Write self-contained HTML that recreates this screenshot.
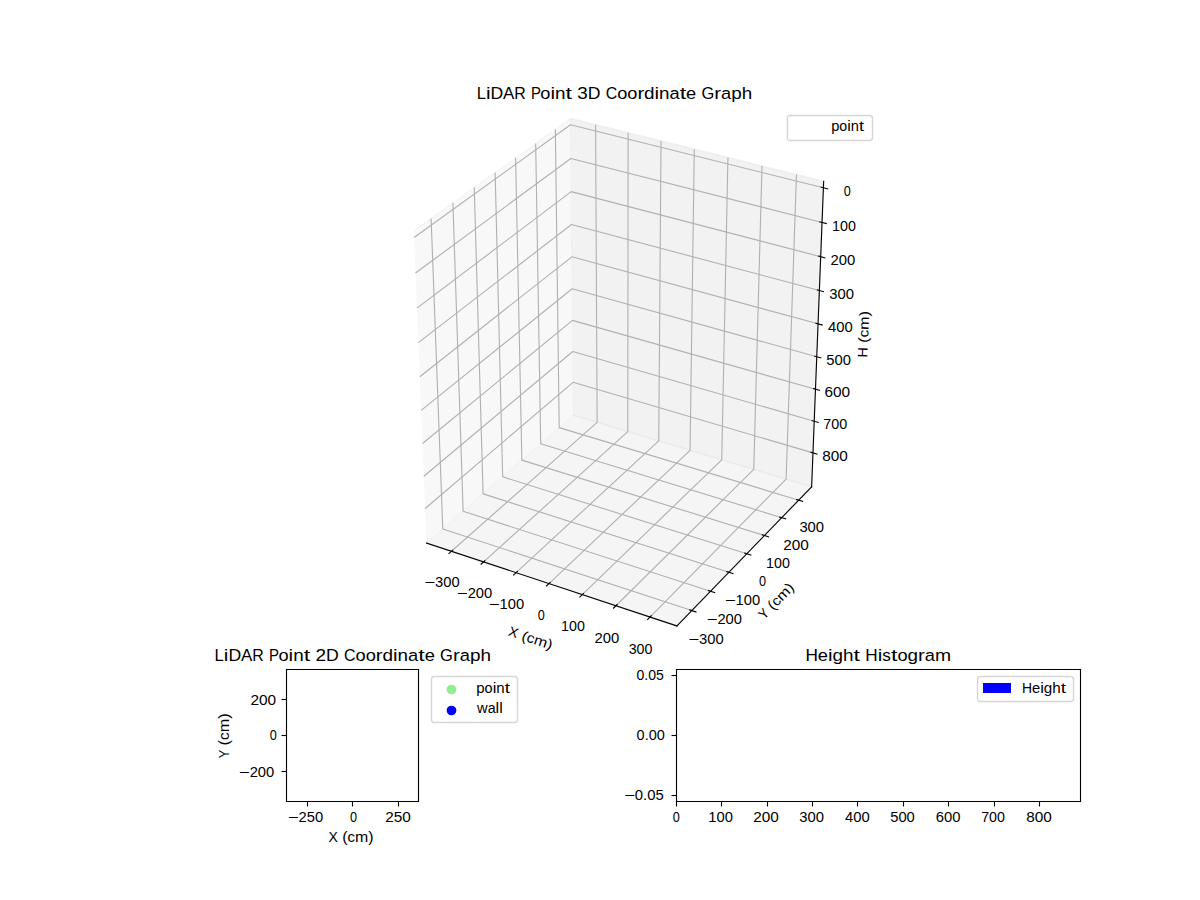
<!DOCTYPE html>
<html><head><meta charset="utf-8"><title>LiDAR Point Graphs</title><style>html,body{margin:0;padding:0;background:#fff;overflow:hidden;width:1200px;height:900px}</style></head><body>
<svg width="1200" height="900" viewBox="0 0 1200 900" style="display:block;font-family:'Liberation Sans',sans-serif">
<path d="M351 636L879 636L879 108L351 108Z" fill="#ffffff"/>
<path d="M413.78 230.85L570.45 118.51L573.41 415.27L426.59 543.03" fill="#f2f2f2" fill-opacity="0.5" stroke="#f2f2f2" stroke-opacity="0.5" stroke-width="1.389"/>
<path d="M570.45 118.51L823.66 181.24L811.65 486.76L573.41 415.27" fill="#e6e6e6" fill-opacity="0.5" stroke="#e6e6e6" stroke-opacity="0.5" stroke-width="1.389"/>
<path d="M426.59 543.03L676.91 625.95L811.65 486.76L573.41 415.27" fill="#ececec" fill-opacity="0.5" stroke="#ececec" stroke-opacity="0.5" stroke-width="1.389"/>
<path d="M451.44 551.27L597.12 422.39L595.6 124.74" fill="none" stroke="#b0b0b0" stroke-width="1.111" stroke-linejoin="round"/>
<path d="M483.57 561.91L627.77 431.59L628.12 132.8" fill="none" stroke="#b0b0b0" stroke-width="1.111" stroke-linejoin="round"/>
<path d="M516.08 572.68L658.75 440.88L661.01 140.95" fill="none" stroke="#b0b0b0" stroke-width="1.111" stroke-linejoin="round"/>
<path d="M548.97 583.57L690.07 450.28L694.28 149.19" fill="none" stroke="#b0b0b0" stroke-width="1.111" stroke-linejoin="round"/>
<path d="M582.25 594.59L721.74 459.78L727.94 157.53" fill="none" stroke="#b0b0b0" stroke-width="1.111" stroke-linejoin="round"/>
<path d="M615.93 605.75L753.75 469.39L762 165.97" fill="none" stroke="#b0b0b0" stroke-width="1.111" stroke-linejoin="round"/>
<path d="M650 617.04L786.11 479.1L796.46 174.5" fill="none" stroke="#b0b0b0" stroke-width="1.111" stroke-linejoin="round"/>
<path d="M431.12 218.42L442.78 528.95L691.8 610.56" fill="none" stroke="#b0b0b0" stroke-width="1.111" stroke-linejoin="round"/>
<path d="M452.9 202.8L463.13 511.24L710.52 591.23" fill="none" stroke="#b0b0b0" stroke-width="1.111" stroke-linejoin="round"/>
<path d="M474.24 187.5L483.09 493.87L728.86 572.29" fill="none" stroke="#b0b0b0" stroke-width="1.111" stroke-linejoin="round"/>
<path d="M495.14 172.51L502.66 476.84L746.83 553.72" fill="none" stroke="#b0b0b0" stroke-width="1.111" stroke-linejoin="round"/>
<path d="M515.61 157.83L521.86 460.13L764.44 535.53" fill="none" stroke="#b0b0b0" stroke-width="1.111" stroke-linejoin="round"/>
<path d="M535.68 143.44L540.71 443.73L781.71 517.69" fill="none" stroke="#b0b0b0" stroke-width="1.111" stroke-linejoin="round"/>
<path d="M555.35 129.34L559.2 427.64L798.65 500.2" fill="none" stroke="#b0b0b0" stroke-width="1.111" stroke-linejoin="round"/>
<path d="M823.4 187.73L570.51 124.8L414.06 237.49" fill="none" stroke="#b0b0b0" stroke-width="1.111" stroke-linejoin="round"/>
<path d="M822.04 222.45L570.85 158.45L415.51 273.03" fill="none" stroke="#b0b0b0" stroke-width="1.111" stroke-linejoin="round"/>
<path d="M820.69 256.7L571.18 191.66L416.95 308.07" fill="none" stroke="#b0b0b0" stroke-width="1.111" stroke-linejoin="round"/>
<path d="M819.37 290.49L571.51 224.45L418.37 342.63" fill="none" stroke="#b0b0b0" stroke-width="1.111" stroke-linejoin="round"/>
<path d="M818.06 323.83L571.83 256.82L419.77 376.71" fill="none" stroke="#b0b0b0" stroke-width="1.111" stroke-linejoin="round"/>
<path d="M816.76 356.74L572.15 288.79L421.15 410.33" fill="none" stroke="#b0b0b0" stroke-width="1.111" stroke-linejoin="round"/>
<path d="M815.49 389.21L572.46 320.35L422.51 443.49" fill="none" stroke="#b0b0b0" stroke-width="1.111" stroke-linejoin="round"/>
<path d="M814.23 421.26L572.77 351.52L423.85 476.2" fill="none" stroke="#b0b0b0" stroke-width="1.111" stroke-linejoin="round"/>
<path d="M812.98 452.89L573.08 382.3L425.18 508.48" fill="none" stroke="#b0b0b0" stroke-width="1.111" stroke-linejoin="round"/>
<path d="M426.59 543.03L676.91 625.95" fill="none" stroke="#000000" stroke-width="1.111" stroke-linejoin="round" stroke-linecap="square"/>
<path d="M452.69 550.16L448.93 553.49" fill="none" stroke="#000000" stroke-width="1.111" stroke-linejoin="round" stroke-linecap="square"/>
<text transform="translate(424.280 587.448)" font-size="13.889" fill="#000000"><tspan x="0" textLength="10.784" lengthAdjust="spacingAndGlyphs">−</tspan><tspan x="10.78" textLength="8.188" lengthAdjust="spacingAndGlyphs">3</tspan><tspan x="18.97" textLength="8.188" lengthAdjust="spacingAndGlyphs">0</tspan><tspan x="27.16" textLength="8.188" lengthAdjust="spacingAndGlyphs">0</tspan></text>
<path d="M484.81 560.79L481.09 564.16" fill="none" stroke="#000000" stroke-width="1.111" stroke-linejoin="round" stroke-linecap="square"/>
<text transform="translate(456.845 598.175)" font-size="13.889" fill="#000000"><tspan x="0" textLength="10.792" lengthAdjust="spacingAndGlyphs">−</tspan><tspan x="10.79" textLength="8.195" lengthAdjust="spacingAndGlyphs">2</tspan><tspan x="18.99" textLength="8.195" lengthAdjust="spacingAndGlyphs">0</tspan><tspan x="27.18" textLength="8.195" lengthAdjust="spacingAndGlyphs">0</tspan></text>
<path d="M517.31 571.54L513.62 574.95" fill="none" stroke="#000000" stroke-width="1.111" stroke-linejoin="round" stroke-linecap="square"/>
<text transform="translate(488.812 609.334)" font-size="13.889" fill="#000000"><tspan x="0" textLength="10.808" lengthAdjust="spacingAndGlyphs">−</tspan><tspan x="10.81" textLength="8.207" lengthAdjust="spacingAndGlyphs">1</tspan><tspan x="19.02" textLength="8.207" lengthAdjust="spacingAndGlyphs">0</tspan><tspan x="27.22" textLength="8.207" lengthAdjust="spacingAndGlyphs">0</tspan></text>
<path d="M550.19 582.42L546.54 585.87" fill="none" stroke="#000000" stroke-width="1.111" stroke-linejoin="round" stroke-linecap="square"/>
<text transform="translate(537.843 620.296)" font-size="13.889" fill="#000000"><tspan x="0" textLength="7.062" lengthAdjust="spacingAndGlyphs">0</tspan></text>
<path d="M583.45 593.43L579.84 596.92" fill="none" stroke="#000000" stroke-width="1.111" stroke-linejoin="round" stroke-linecap="square"/>
<text transform="translate(561.032 631.459)" font-size="13.889" fill="#000000"><tspan x="0" textLength="7.934" lengthAdjust="spacingAndGlyphs">1</tspan><tspan x="7.93" textLength="7.934" lengthAdjust="spacingAndGlyphs">0</tspan><tspan x="15.87" textLength="7.934" lengthAdjust="spacingAndGlyphs">0</tspan></text>
<path d="M617.11 604.57L613.55 608.1" fill="none" stroke="#000000" stroke-width="1.111" stroke-linejoin="round" stroke-linecap="square"/>
<text transform="translate(594.565 643.052)" font-size="13.889" fill="#000000"><tspan x="0" textLength="8.252" lengthAdjust="spacingAndGlyphs">2</tspan><tspan x="8.25" textLength="8.252" lengthAdjust="spacingAndGlyphs">0</tspan><tspan x="16.5" textLength="8.252" lengthAdjust="spacingAndGlyphs">0</tspan></text>
<path d="M651.18 615.85L647.65 619.42" fill="none" stroke="#000000" stroke-width="1.111" stroke-linejoin="round" stroke-linecap="square"/>
<text transform="translate(628.665 653.968)" font-size="13.889" fill="#000000"><tspan x="0" textLength="7.945" lengthAdjust="spacingAndGlyphs">3</tspan><tspan x="7.94" textLength="7.945" lengthAdjust="spacingAndGlyphs">0</tspan><tspan x="15.89" textLength="7.945" lengthAdjust="spacingAndGlyphs">0</tspan></text>
<text transform="translate(507.505 635.331) rotate(-341.6733)" font-size="13.889" fill="#000000"><tspan x="0" textLength="9.448" lengthAdjust="spacingAndGlyphs">X</tspan><tspan x="13.83" textLength="5.381" lengthAdjust="spacingAndGlyphs">(</tspan><tspan x="19.21" textLength="7.583" lengthAdjust="spacingAndGlyphs">c</tspan><tspan x="26.8" textLength="13.435" lengthAdjust="spacingAndGlyphs">m</tspan><tspan x="40.23" textLength="5.381" lengthAdjust="spacingAndGlyphs">)</tspan></text>
<path d="M811.65 486.76L676.91 625.95" fill="none" stroke="#000000" stroke-width="1.111" stroke-linejoin="round" stroke-linecap="square"/>
<path d="M689.72 609.88L695.97 611.93" fill="none" stroke="#000000" stroke-width="1.111" stroke-linejoin="round" stroke-linecap="square"/>
<text transform="translate(688.240 643.944)" font-size="13.889" fill="#000000"><tspan x="0" textLength="10.800" lengthAdjust="spacingAndGlyphs">−</tspan><tspan x="10.8" textLength="8.200" lengthAdjust="spacingAndGlyphs">3</tspan><tspan x="19" textLength="8.200" lengthAdjust="spacingAndGlyphs">0</tspan><tspan x="27.2" textLength="8.200" lengthAdjust="spacingAndGlyphs">0</tspan></text>
<path d="M708.45 590.56L714.66 592.57" fill="none" stroke="#000000" stroke-width="1.111" stroke-linejoin="round" stroke-linecap="square"/>
<text transform="translate(706.601 623.817)" font-size="13.889" fill="#000000"><tspan x="0" textLength="10.792" lengthAdjust="spacingAndGlyphs">−</tspan><tspan x="10.79" textLength="8.195" lengthAdjust="spacingAndGlyphs">2</tspan><tspan x="18.99" textLength="8.195" lengthAdjust="spacingAndGlyphs">0</tspan><tspan x="27.18" textLength="8.195" lengthAdjust="spacingAndGlyphs">0</tspan></text>
<path d="M726.81 571.63L732.97 573.6" fill="none" stroke="#000000" stroke-width="1.111" stroke-linejoin="round" stroke-linecap="square"/>
<text transform="translate(724.826 605.421)" font-size="13.889" fill="#000000"><tspan x="0" textLength="10.792" lengthAdjust="spacingAndGlyphs">−</tspan><tspan x="10.79" textLength="8.195" lengthAdjust="spacingAndGlyphs">1</tspan><tspan x="18.99" textLength="8.195" lengthAdjust="spacingAndGlyphs">0</tspan><tspan x="27.18" textLength="8.195" lengthAdjust="spacingAndGlyphs">0</tspan></text>
<path d="M744.79 553.08L750.91 555.01" fill="none" stroke="#000000" stroke-width="1.111" stroke-linejoin="round" stroke-linecap="square"/>
<text transform="translate(758.880 586.063)" font-size="13.889" fill="#000000"><tspan x="0" textLength="7.062" lengthAdjust="spacingAndGlyphs">0</tspan></text>
<path d="M762.42 534.9L768.5 536.79" fill="none" stroke="#000000" stroke-width="1.111" stroke-linejoin="round" stroke-linecap="square"/>
<text transform="translate(766.055 568.148)" font-size="13.889" fill="#000000"><tspan x="0" textLength="7.934" lengthAdjust="spacingAndGlyphs">1</tspan><tspan x="7.93" textLength="7.934" lengthAdjust="spacingAndGlyphs">0</tspan><tspan x="15.87" textLength="7.934" lengthAdjust="spacingAndGlyphs">0</tspan></text>
<path d="M779.7 517.07L785.74 518.92" fill="none" stroke="#000000" stroke-width="1.111" stroke-linejoin="round" stroke-linecap="square"/>
<text transform="translate(783.269 550.413)" font-size="13.889" fill="#000000"><tspan x="0" textLength="8.536" lengthAdjust="spacingAndGlyphs">2</tspan><tspan x="8.54" textLength="8.536" lengthAdjust="spacingAndGlyphs">0</tspan><tspan x="17.07" textLength="8.536" lengthAdjust="spacingAndGlyphs">0</tspan></text>
<path d="M796.65 499.59L802.64 501.41" fill="none" stroke="#000000" stroke-width="1.111" stroke-linejoin="round" stroke-linecap="square"/>
<text transform="translate(799.376 532.213)" font-size="13.889" fill="#000000"><tspan x="0" textLength="8.245" lengthAdjust="spacingAndGlyphs">3</tspan><tspan x="8.24" textLength="8.245" lengthAdjust="spacingAndGlyphs">0</tspan><tspan x="16.49" textLength="8.245" lengthAdjust="spacingAndGlyphs">0</tspan></text>
<text transform="translate(764.257 619.960) rotate(-45.9294)" font-size="13.889" fill="#000000"><tspan x="0" textLength="8.334" lengthAdjust="spacingAndGlyphs">Y</tspan><tspan x="12.67" textLength="5.323" lengthAdjust="spacingAndGlyphs">(</tspan><tspan x="17.99" textLength="7.501" lengthAdjust="spacingAndGlyphs">c</tspan><tspan x="25.49" textLength="13.290" lengthAdjust="spacingAndGlyphs">m</tspan><tspan x="38.78" textLength="5.323" lengthAdjust="spacingAndGlyphs">)</tspan></text>
<path d="M811.65 486.76L823.66 181.24" fill="none" stroke="#000000" stroke-width="1.111" stroke-linejoin="round" stroke-linecap="square"/>
<path d="M821.29 187.21L827.64 188.79" fill="none" stroke="#000000" stroke-width="1.111" stroke-linejoin="round" stroke-linecap="square"/>
<text transform="translate(843.793 196.062)" font-size="13.889" fill="#000000"><tspan x="0" textLength="7.062" lengthAdjust="spacingAndGlyphs">0</tspan></text>
<path d="M819.94 221.92L826.24 223.52" fill="none" stroke="#000000" stroke-width="1.111" stroke-linejoin="round" stroke-linecap="square"/>
<text transform="translate(832.023 230.705)" font-size="13.889" fill="#000000"><tspan x="0" textLength="7.934" lengthAdjust="spacingAndGlyphs">1</tspan><tspan x="7.93" textLength="7.934" lengthAdjust="spacingAndGlyphs">0</tspan><tspan x="15.87" textLength="7.934" lengthAdjust="spacingAndGlyphs">0</tspan></text>
<path d="M818.61 256.16L824.87 257.79" fill="none" stroke="#000000" stroke-width="1.111" stroke-linejoin="round" stroke-linecap="square"/>
<text transform="translate(830.551 265.212)" font-size="13.889" fill="#000000"><tspan x="0" textLength="8.252" lengthAdjust="spacingAndGlyphs">2</tspan><tspan x="8.25" textLength="8.252" lengthAdjust="spacingAndGlyphs">0</tspan><tspan x="16.5" textLength="8.252" lengthAdjust="spacingAndGlyphs">0</tspan></text>
<path d="M817.3 289.94L823.51 291.6" fill="none" stroke="#000000" stroke-width="1.111" stroke-linejoin="round" stroke-linecap="square"/>
<text transform="translate(829.348 298.945)" font-size="13.889" fill="#000000"><tspan x="0" textLength="8.245" lengthAdjust="spacingAndGlyphs">3</tspan><tspan x="8.24" textLength="8.245" lengthAdjust="spacingAndGlyphs">0</tspan><tspan x="16.49" textLength="8.245" lengthAdjust="spacingAndGlyphs">0</tspan></text>
<path d="M816 323.28L822.17 324.95" fill="none" stroke="#000000" stroke-width="1.111" stroke-linejoin="round" stroke-linecap="square"/>
<text transform="translate(827.956 331.528)" font-size="13.889" fill="#000000"><tspan x="0" textLength="8.239" lengthAdjust="spacingAndGlyphs">4</tspan><tspan x="8.24" textLength="8.239" lengthAdjust="spacingAndGlyphs">0</tspan><tspan x="16.48" textLength="8.239" lengthAdjust="spacingAndGlyphs">0</tspan></text>
<path d="M814.72 356.17L820.85 357.87" fill="none" stroke="#000000" stroke-width="1.111" stroke-linejoin="round" stroke-linecap="square"/>
<text transform="translate(826.212 364.527)" font-size="13.889" fill="#000000"><tspan x="0" textLength="8.217" lengthAdjust="spacingAndGlyphs">5</tspan><tspan x="8.22" textLength="8.217" lengthAdjust="spacingAndGlyphs">0</tspan><tspan x="16.43" textLength="8.217" lengthAdjust="spacingAndGlyphs">0</tspan></text>
<path d="M813.46 388.63L819.54 390.36" fill="none" stroke="#000000" stroke-width="1.111" stroke-linejoin="round" stroke-linecap="square"/>
<text transform="translate(824.376 397.179)" font-size="13.889" fill="#000000"><tspan x="0" textLength="8.548" lengthAdjust="spacingAndGlyphs">6</tspan><tspan x="8.55" textLength="8.548" lengthAdjust="spacingAndGlyphs">0</tspan><tspan x="17.1" textLength="8.548" lengthAdjust="spacingAndGlyphs">0</tspan></text>
<path d="M812.21 420.67L818.26 422.42" fill="none" stroke="#000000" stroke-width="1.111" stroke-linejoin="round" stroke-linecap="square"/>
<text transform="translate(823.247 428.766)" font-size="13.889" fill="#000000"><tspan x="0" textLength="7.959" lengthAdjust="spacingAndGlyphs">7</tspan><tspan x="7.96" textLength="7.959" lengthAdjust="spacingAndGlyphs">0</tspan><tspan x="15.92" textLength="7.959" lengthAdjust="spacingAndGlyphs">0</tspan></text>
<path d="M810.98 452.3L816.99 454.07" fill="none" stroke="#000000" stroke-width="1.111" stroke-linejoin="round" stroke-linecap="square"/>
<text transform="translate(822.268 460.741)" font-size="13.889" fill="#000000"><tspan x="0" textLength="8.536" lengthAdjust="spacingAndGlyphs">8</tspan><tspan x="8.54" textLength="8.536" lengthAdjust="spacingAndGlyphs">0</tspan><tspan x="17.07" textLength="8.536" lengthAdjust="spacingAndGlyphs">0</tspan></text>
<text transform="translate(867.346 357.649) rotate(-87.7491)" font-size="13.889" fill="#000000"><tspan x="0" textLength="10.353" lengthAdjust="spacingAndGlyphs">H</tspan><tspan x="14.73" textLength="5.372" lengthAdjust="spacingAndGlyphs">(</tspan><tspan x="20.1" textLength="7.570" lengthAdjust="spacingAndGlyphs">c</tspan><tspan x="27.67" textLength="13.412" lengthAdjust="spacingAndGlyphs">m</tspan><tspan x="41.08" textLength="5.372" lengthAdjust="spacingAndGlyphs">)</tspan></text>
<text transform="translate(476.705 99.441)" font-size="16.667" fill="#000000"><tspan x="0" textLength="9.202" lengthAdjust="spacingAndGlyphs">L</tspan><tspan x="9.2" textLength="4.589" lengthAdjust="spacingAndGlyphs">i</tspan><tspan x="13.79" textLength="12.718" lengthAdjust="spacingAndGlyphs">D</tspan><tspan x="26.26" textLength="11.299" lengthAdjust="spacingAndGlyphs">A</tspan><tspan x="37.56" textLength="11.476" lengthAdjust="spacingAndGlyphs">R</tspan><tspan x="54.29" textLength="9.960" lengthAdjust="spacingAndGlyphs">P</tspan><tspan x="63.63" textLength="10.105" lengthAdjust="spacingAndGlyphs">o</tspan><tspan x="73.73" textLength="4.589" lengthAdjust="spacingAndGlyphs">i</tspan><tspan x="78.32" textLength="10.468" lengthAdjust="spacingAndGlyphs">n</tspan><tspan x="88.79" textLength="6.476" lengthAdjust="spacingAndGlyphs">t</tspan><tspan x="100.51" textLength="10.509" lengthAdjust="spacingAndGlyphs">3</tspan><tspan x="111.02" textLength="12.718" lengthAdjust="spacingAndGlyphs">D</tspan><tspan x="128.99" textLength="11.533" lengthAdjust="spacingAndGlyphs">C</tspan><tspan x="140.52" textLength="10.105" lengthAdjust="spacingAndGlyphs">o</tspan><tspan x="150.63" textLength="10.105" lengthAdjust="spacingAndGlyphs">o</tspan><tspan x="160.74" textLength="6.791" lengthAdjust="spacingAndGlyphs">r</tspan><tspan x="167.28" textLength="10.484" lengthAdjust="spacingAndGlyphs">d</tspan><tspan x="177.76" textLength="4.589" lengthAdjust="spacingAndGlyphs">i</tspan><tspan x="182.35" textLength="10.468" lengthAdjust="spacingAndGlyphs">n</tspan><tspan x="192.82" textLength="10.121" lengthAdjust="spacingAndGlyphs">a</tspan><tspan x="202.94" textLength="6.476" lengthAdjust="spacingAndGlyphs">t</tspan><tspan x="209.42" textLength="10.162" lengthAdjust="spacingAndGlyphs">e</tspan><tspan x="224.83" textLength="12.799" lengthAdjust="spacingAndGlyphs">G</tspan><tspan x="237.63" textLength="6.791" lengthAdjust="spacingAndGlyphs">r</tspan><tspan x="244.42" textLength="10.121" lengthAdjust="spacingAndGlyphs">a</tspan><tspan x="254.54" textLength="10.484" lengthAdjust="spacingAndGlyphs">p</tspan><tspan x="265.02" textLength="10.468" lengthAdjust="spacingAndGlyphs">h</tspan></text>
<path d="M789.5 140.5L869.5 140.5Q872.5 140.5 872.5 137.5L872.5 118.5Q872.5 115.5 869.5 115.5L789.5 115.5Q787.5 115.5 787.5 118.5L787.5 137.5Q787.5 140.5 789.5 140.5Z" fill="#ffffff" fill-opacity="0.8" stroke="#cccccc" stroke-opacity="0.8" stroke-width="1.389"/>
<text transform="translate(831.199 131.130)" font-size="13.889" fill="#000000"><tspan x="0" textLength="8.162" lengthAdjust="spacingAndGlyphs">p</tspan><tspan x="8.16" textLength="7.867" lengthAdjust="spacingAndGlyphs">o</tspan><tspan x="16.03" textLength="3.572" lengthAdjust="spacingAndGlyphs">i</tspan><tspan x="19.6" textLength="8.149" lengthAdjust="spacingAndGlyphs">n</tspan><tspan x="27.75" textLength="5.041" lengthAdjust="spacingAndGlyphs">t</tspan></text>
<path d="M286 801L418 801L418 669L286 669Z" fill="#ffffff"/>
<path d="M307.5 801.5L307.5 806.5" fill="#000000" stroke="#000000" stroke-width="1.111" stroke-linejoin="round"/>
<text transform="translate(287.789 822.099)" font-size="13.889" fill="#000000"><tspan x="0" textLength="10.808" lengthAdjust="spacingAndGlyphs">−</tspan><tspan x="10.81" textLength="8.207" lengthAdjust="spacingAndGlyphs">2</tspan><tspan x="19.02" textLength="8.207" lengthAdjust="spacingAndGlyphs">5</tspan><tspan x="27.22" textLength="8.207" lengthAdjust="spacingAndGlyphs">0</tspan></text>
<path d="M352.5 801.5L352.5 806.5" fill="#000000" stroke="#000000" stroke-width="1.111" stroke-linejoin="round"/>
<text transform="translate(349.887 821.846)" font-size="13.889" fill="#000000"><tspan x="0" textLength="7.062" lengthAdjust="spacingAndGlyphs">0</tspan></text>
<path d="M398.5 801.5L398.5 806.5" fill="#000000" stroke="#000000" stroke-width="1.111" stroke-linejoin="round"/>
<text transform="translate(385.254 821.962)" font-size="13.889" fill="#000000"><tspan x="0" textLength="8.536" lengthAdjust="spacingAndGlyphs">2</tspan><tspan x="8.54" textLength="8.536" lengthAdjust="spacingAndGlyphs">5</tspan><tspan x="17.07" textLength="8.536" lengthAdjust="spacingAndGlyphs">0</tspan></text>
<text transform="translate(328.595 841.669)" font-size="13.889" fill="#000000"><tspan x="0" textLength="9.324" lengthAdjust="spacingAndGlyphs">X</tspan><tspan x="13.65" textLength="5.310" lengthAdjust="spacingAndGlyphs">(</tspan><tspan x="18.96" textLength="7.483" lengthAdjust="spacingAndGlyphs">c</tspan><tspan x="26.44" textLength="13.258" lengthAdjust="spacingAndGlyphs">m</tspan><tspan x="39.7" textLength="5.310" lengthAdjust="spacingAndGlyphs">)</tspan></text>
<path d="M286.5 771.5L281.5 771.5" fill="#000000" stroke="#000000" stroke-width="1.111" stroke-linejoin="round"/>
<text transform="translate(238.858 777.349)" font-size="13.889" fill="#000000"><tspan x="0" textLength="10.808" lengthAdjust="spacingAndGlyphs">−</tspan><tspan x="10.81" textLength="8.207" lengthAdjust="spacingAndGlyphs">2</tspan><tspan x="19.02" textLength="8.207" lengthAdjust="spacingAndGlyphs">0</tspan><tspan x="27.22" textLength="8.207" lengthAdjust="spacingAndGlyphs">0</tspan></text>
<path d="M286.5 735.5L281.5 735.5" fill="#000000" stroke="#000000" stroke-width="1.111" stroke-linejoin="round"/>
<text transform="translate(269.789 739.624)" font-size="13.889" fill="#000000"><tspan x="0" textLength="7.062" lengthAdjust="spacingAndGlyphs">0</tspan></text>
<path d="M286.5 699.5L281.5 699.5" fill="#000000" stroke="#000000" stroke-width="1.111" stroke-linejoin="round"/>
<text transform="translate(250.449 704.509)" font-size="13.889" fill="#000000"><tspan x="0" textLength="8.562" lengthAdjust="spacingAndGlyphs">2</tspan><tspan x="8.56" textLength="8.562" lengthAdjust="spacingAndGlyphs">0</tspan><tspan x="17.12" textLength="8.562" lengthAdjust="spacingAndGlyphs">0</tspan></text>
<text transform="translate(228.615 758.269) rotate(-90.0000)" font-size="13.889" fill="#000000"><tspan x="0" textLength="8.484" lengthAdjust="spacingAndGlyphs">Y</tspan><tspan x="12.9" textLength="5.419" lengthAdjust="spacingAndGlyphs">(</tspan><tspan x="18.32" textLength="7.637" lengthAdjust="spacingAndGlyphs">c</tspan><tspan x="25.96" textLength="13.530" lengthAdjust="spacingAndGlyphs">m</tspan><tspan x="39.49" textLength="5.419" lengthAdjust="spacingAndGlyphs">)</tspan></text>
<path d="M286.5 801.5L286.5 669.5" fill="none" stroke="#000000" stroke-width="1.111" stroke-linecap="square"/>
<path d="M418.5 801.5L418.5 669.5" fill="none" stroke="#000000" stroke-width="1.111" stroke-linecap="square"/>
<path d="M286.5 801.5L418.5 801.5" fill="none" stroke="#000000" stroke-width="1.111" stroke-linecap="square"/>
<path d="M286.5 669.5L418.5 669.5" fill="none" stroke="#000000" stroke-width="1.111" stroke-linecap="square"/>
<text transform="translate(214.572 660.506)" font-size="16.667" fill="#000000"><tspan x="0" textLength="9.232" lengthAdjust="spacingAndGlyphs">L</tspan><tspan x="9.23" textLength="4.604" lengthAdjust="spacingAndGlyphs">i</tspan><tspan x="13.84" textLength="12.760" lengthAdjust="spacingAndGlyphs">D</tspan><tspan x="26.35" textLength="11.336" lengthAdjust="spacingAndGlyphs">A</tspan><tspan x="37.68" textLength="11.514" lengthAdjust="spacingAndGlyphs">R</tspan><tspan x="54.46" textLength="9.993" lengthAdjust="spacingAndGlyphs">P</tspan><tspan x="63.83" textLength="10.138" lengthAdjust="spacingAndGlyphs">o</tspan><tspan x="73.97" textLength="4.604" lengthAdjust="spacingAndGlyphs">i</tspan><tspan x="78.58" textLength="10.502" lengthAdjust="spacingAndGlyphs">n</tspan><tspan x="89.08" textLength="6.497" lengthAdjust="spacingAndGlyphs">t</tspan><tspan x="100.84" textLength="10.543" lengthAdjust="spacingAndGlyphs">2</tspan><tspan x="111.39" textLength="12.760" lengthAdjust="spacingAndGlyphs">D</tspan><tspan x="129.41" textLength="11.570" lengthAdjust="spacingAndGlyphs">C</tspan><tspan x="140.98" textLength="10.138" lengthAdjust="spacingAndGlyphs">o</tspan><tspan x="151.12" textLength="10.138" lengthAdjust="spacingAndGlyphs">o</tspan><tspan x="161.26" textLength="6.813" lengthAdjust="spacingAndGlyphs">r</tspan><tspan x="167.82" textLength="10.519" lengthAdjust="spacingAndGlyphs">d</tspan><tspan x="178.34" textLength="4.604" lengthAdjust="spacingAndGlyphs">i</tspan><tspan x="182.95" textLength="10.502" lengthAdjust="spacingAndGlyphs">n</tspan><tspan x="193.45" textLength="10.154" lengthAdjust="spacingAndGlyphs">a</tspan><tspan x="203.6" textLength="6.497" lengthAdjust="spacingAndGlyphs">t</tspan><tspan x="210.1" textLength="10.195" lengthAdjust="spacingAndGlyphs">e</tspan><tspan x="225.56" textLength="12.841" lengthAdjust="spacingAndGlyphs">G</tspan><tspan x="238.4" textLength="6.813" lengthAdjust="spacingAndGlyphs">r</tspan><tspan x="245.22" textLength="10.154" lengthAdjust="spacingAndGlyphs">a</tspan><tspan x="255.37" textLength="10.519" lengthAdjust="spacingAndGlyphs">p</tspan><tspan x="265.89" textLength="10.502" lengthAdjust="spacingAndGlyphs">h</tspan></text>
<path d="M433.5 722.5L514.5 722.5Q517.5 722.5 517.5 719.5L517.5 679.5Q517.5 676.5 514.5 676.5L433.5 676.5Q431.5 676.5 431.5 679.5L431.5 719.5Q431.5 722.5 433.5 722.5Z" fill="#ffffff" fill-opacity="0.8" stroke="#cccccc" stroke-opacity="0.8" stroke-width="1.389"/>
<path d="M451.5 693.67C452.61 693.67 453.66 693.23 454.45 692.45C455.23 691.66 455.67 690.61 455.67 689.5C455.67 688.39 455.23 687.34 454.45 686.55C453.66 685.77 452.61 685.33 451.5 685.33C450.39 685.33 449.34 685.77 448.55 686.55C447.77 687.34 447.33 688.39 447.33 689.5C447.33 690.61 447.77 691.66 448.55 692.45C449.34 693.23 450.39 693.67 451.5 693.67Z" fill="#90ee90" stroke="#90ee90" stroke-width="1.389" stroke-linejoin="round"/>
<text transform="translate(476.262 693.117)" font-size="13.889" fill="#000000"><tspan x="0" textLength="8.362" lengthAdjust="spacingAndGlyphs">p</tspan><tspan x="8.36" textLength="8.060" lengthAdjust="spacingAndGlyphs">o</tspan><tspan x="16.42" textLength="3.660" lengthAdjust="spacingAndGlyphs">i</tspan><tspan x="20.08" textLength="8.349" lengthAdjust="spacingAndGlyphs">n</tspan><tspan x="28.43" textLength="5.165" lengthAdjust="spacingAndGlyphs">t</tspan></text>
<path d="M451.5 714.67C452.61 714.67 453.66 714.23 454.45 713.45C455.23 712.66 455.67 711.61 455.67 710.5C455.67 709.39 455.23 708.34 454.45 707.55C453.66 706.77 452.61 706.33 451.5 706.33C450.39 706.33 449.34 706.77 448.55 707.55C447.77 708.34 447.33 709.39 447.33 710.5C447.33 711.61 447.77 712.66 448.55 713.45C449.34 714.23 450.39 714.67 451.5 714.67Z" fill="#0000ff" stroke="#0000ff" stroke-width="1.389" stroke-linejoin="round"/>
<text transform="translate(477.046 712.795)" font-size="13.889" fill="#000000"><tspan x="0" textLength="10.604" lengthAdjust="spacingAndGlyphs">w</tspan><tspan x="10.6" textLength="7.945" lengthAdjust="spacingAndGlyphs">a</tspan><tspan x="18.55" textLength="3.602" lengthAdjust="spacingAndGlyphs">l</tspan><tspan x="22.15" textLength="3.602" lengthAdjust="spacingAndGlyphs">l</tspan></text>
<path d="M676 801L1080 801L1080 669L676 669Z" fill="#ffffff"/>
<path d="M676 735L676 735L676 735L676 735Z" fill="#0000ff"/>
<path d="M676 735L676 735L676 735L676 735Z" fill="#0000ff"/>
<path d="M676 735L676 735L676 735L676 735Z" fill="#0000ff"/>
<path d="M676 735L676 735L676 735L676 735Z" fill="#0000ff"/>
<path d="M676 735L676 735L676 735L676 735Z" fill="#0000ff"/>
<path d="M676 735L676 735L676 735L676 735Z" fill="#0000ff"/>
<path d="M676 735L676 735L676 735L676 735Z" fill="#0000ff"/>
<path d="M676 735L676 735L676 735L676 735Z" fill="#0000ff"/>
<path d="M676 735L676 735L676 735L676 735Z" fill="#0000ff"/>
<path d="M676 735L676 735L676 735L676 735Z" fill="#0000ff"/>
<path d="M676.5 801.5L676.5 806.5" fill="#000000" stroke="#000000" stroke-width="1.111" stroke-linejoin="round"/>
<text transform="translate(672.863 821.855)" font-size="13.889" fill="#000000"><tspan x="0" textLength="7.062" lengthAdjust="spacingAndGlyphs">0</tspan></text>
<path d="M721.5 801.5L721.5 806.5" fill="#000000" stroke="#000000" stroke-width="1.111" stroke-linejoin="round"/>
<text transform="translate(708.208 821.833)" font-size="13.889" fill="#000000"><tspan x="0" textLength="8.218" lengthAdjust="spacingAndGlyphs">1</tspan><tspan x="8.22" textLength="8.218" lengthAdjust="spacingAndGlyphs">0</tspan><tspan x="16.44" textLength="8.218" lengthAdjust="spacingAndGlyphs">0</tspan></text>
<path d="M767.5 801.5L767.5 806.5" fill="#000000" stroke="#000000" stroke-width="1.111" stroke-linejoin="round"/>
<text transform="translate(753.272 822.118)" font-size="13.889" fill="#000000"><tspan x="0" textLength="8.536" lengthAdjust="spacingAndGlyphs">2</tspan><tspan x="8.54" textLength="8.536" lengthAdjust="spacingAndGlyphs">0</tspan><tspan x="17.07" textLength="8.536" lengthAdjust="spacingAndGlyphs">0</tspan></text>
<path d="M812.5 801.5L812.5 806.5" fill="#000000" stroke="#000000" stroke-width="1.111" stroke-linejoin="round"/>
<text transform="translate(799.369 821.596)" font-size="13.889" fill="#000000"><tspan x="0" textLength="8.245" lengthAdjust="spacingAndGlyphs">3</tspan><tspan x="8.24" textLength="8.245" lengthAdjust="spacingAndGlyphs">0</tspan><tspan x="16.49" textLength="8.245" lengthAdjust="spacingAndGlyphs">0</tspan></text>
<path d="M857.5 801.5L857.5 806.5" fill="#000000" stroke="#000000" stroke-width="1.111" stroke-linejoin="round"/>
<text transform="translate(844.956 821.878)" font-size="13.889" fill="#000000"><tspan x="0" textLength="8.239" lengthAdjust="spacingAndGlyphs">4</tspan><tspan x="8.24" textLength="8.239" lengthAdjust="spacingAndGlyphs">0</tspan><tspan x="16.48" textLength="8.239" lengthAdjust="spacingAndGlyphs">0</tspan></text>
<path d="M903.5 801.5L903.5 806.5" fill="#000000" stroke="#000000" stroke-width="1.111" stroke-linejoin="round"/>
<text transform="translate(890.166 821.528)" font-size="13.889" fill="#000000"><tspan x="0" textLength="8.217" lengthAdjust="spacingAndGlyphs">5</tspan><tspan x="8.22" textLength="8.217" lengthAdjust="spacingAndGlyphs">0</tspan><tspan x="16.43" textLength="8.217" lengthAdjust="spacingAndGlyphs">0</tspan></text>
<path d="M948.5 801.5L948.5 806.5" fill="#000000" stroke="#000000" stroke-width="1.111" stroke-linejoin="round"/>
<text transform="translate(935.732 821.729)" font-size="13.889" fill="#000000"><tspan x="0" textLength="8.239" lengthAdjust="spacingAndGlyphs">6</tspan><tspan x="8.24" textLength="8.239" lengthAdjust="spacingAndGlyphs">0</tspan><tspan x="16.48" textLength="8.239" lengthAdjust="spacingAndGlyphs">0</tspan></text>
<path d="M994.5 801.5L994.5 806.5" fill="#000000" stroke="#000000" stroke-width="1.111" stroke-linejoin="round"/>
<text transform="translate(981.175 821.842)" font-size="13.889" fill="#000000"><tspan x="0" textLength="7.934" lengthAdjust="spacingAndGlyphs">7</tspan><tspan x="7.93" textLength="7.934" lengthAdjust="spacingAndGlyphs">0</tspan><tspan x="15.87" textLength="7.934" lengthAdjust="spacingAndGlyphs">0</tspan></text>
<path d="M1039.5 801.5L1039.5 806.5" fill="#000000" stroke="#000000" stroke-width="1.111" stroke-linejoin="round"/>
<text transform="translate(1026.272 821.686)" font-size="13.889" fill="#000000"><tspan x="0" textLength="8.536" lengthAdjust="spacingAndGlyphs">8</tspan><tspan x="8.54" textLength="8.536" lengthAdjust="spacingAndGlyphs">0</tspan><tspan x="17.07" textLength="8.536" lengthAdjust="spacingAndGlyphs">0</tspan></text>
<path d="M676.5 795.5L671.5 795.5" fill="#000000" stroke="#000000" stroke-width="1.111" stroke-linejoin="round"/>
<text transform="translate(623.983 799.501)" font-size="13.889" fill="#000000"><tspan x="0" textLength="10.885" lengthAdjust="spacingAndGlyphs">−</tspan><tspan x="10.89" textLength="8.266" lengthAdjust="spacingAndGlyphs">0</tspan><tspan x="19.15" textLength="4.130" lengthAdjust="spacingAndGlyphs">.</tspan><tspan x="23.28" textLength="8.266" lengthAdjust="spacingAndGlyphs">0</tspan><tspan x="31.55" textLength="8.266" lengthAdjust="spacingAndGlyphs">5</tspan></text>
<path d="M676.5 735.5L671.5 735.5" fill="#000000" stroke="#000000" stroke-width="1.111" stroke-linejoin="round"/>
<text transform="translate(636.600 740.483)" font-size="13.889" fill="#000000"><tspan x="0" textLength="8.069" lengthAdjust="spacingAndGlyphs">0</tspan><tspan x="8.07" textLength="4.031" lengthAdjust="spacingAndGlyphs">.</tspan><tspan x="12.1" textLength="8.069" lengthAdjust="spacingAndGlyphs">0</tspan><tspan x="20.17" textLength="8.069" lengthAdjust="spacingAndGlyphs">0</tspan></text>
<path d="M676.5 675.5L671.5 675.5" fill="#000000" stroke="#000000" stroke-width="1.111" stroke-linejoin="round"/>
<text transform="translate(636.440 680.294)" font-size="13.889" fill="#000000"><tspan x="0" textLength="7.819" lengthAdjust="spacingAndGlyphs">0</tspan><tspan x="7.82" textLength="3.906" lengthAdjust="spacingAndGlyphs">.</tspan><tspan x="11.72" textLength="7.819" lengthAdjust="spacingAndGlyphs">0</tspan><tspan x="19.54" textLength="7.819" lengthAdjust="spacingAndGlyphs">5</tspan></text>
<path d="M676.5 801.5L676.5 669.5" fill="none" stroke="#000000" stroke-width="1.111" stroke-linecap="square"/>
<path d="M1080.5 801.5L1080.5 669.5" fill="none" stroke="#000000" stroke-width="1.111" stroke-linecap="square"/>
<path d="M676.5 801.5L1080.5 801.5" fill="none" stroke="#000000" stroke-width="1.111" stroke-linecap="square"/>
<path d="M676.5 669.5L1080.5 669.5" fill="none" stroke="#000000" stroke-width="1.111" stroke-linecap="square"/>
<text transform="translate(805.418 660.555)" font-size="16.667" fill="#000000"><tspan x="0" textLength="12.424" lengthAdjust="spacingAndGlyphs">H</tspan><tspan x="12.42" textLength="10.165" lengthAdjust="spacingAndGlyphs">e</tspan><tspan x="22.59" textLength="4.590" lengthAdjust="spacingAndGlyphs">i</tspan><tspan x="27.18" textLength="10.487" lengthAdjust="spacingAndGlyphs">g</tspan><tspan x="37.67" textLength="10.471" lengthAdjust="spacingAndGlyphs">h</tspan><tspan x="48.14" textLength="6.478" lengthAdjust="spacingAndGlyphs">t</tspan><tspan x="59.87" textLength="12.424" lengthAdjust="spacingAndGlyphs">H</tspan><tspan x="72.29" textLength="4.590" lengthAdjust="spacingAndGlyphs">i</tspan><tspan x="76.88" textLength="8.608" lengthAdjust="spacingAndGlyphs">s</tspan><tspan x="85.49" textLength="6.478" lengthAdjust="spacingAndGlyphs">t</tspan><tspan x="91.97" textLength="10.108" lengthAdjust="spacingAndGlyphs">o</tspan><tspan x="102.08" textLength="10.487" lengthAdjust="spacingAndGlyphs">g</tspan><tspan x="112.56" textLength="6.793" lengthAdjust="spacingAndGlyphs">r</tspan><tspan x="119.36" textLength="10.124" lengthAdjust="spacingAndGlyphs">a</tspan><tspan x="129.48" textLength="16.094" lengthAdjust="spacingAndGlyphs">m</tspan></text>
<path d="M980.5 701.5L1070.5 701.5Q1073.5 701.5 1073.5 698.5L1073.5 679.5Q1073.5 676.5 1070.5 676.5L980.5 676.5Q977.5 676.5 977.5 679.5L977.5 698.5Q977.5 701.5 980.5 701.5Z" fill="#ffffff" fill-opacity="0.8" stroke="#cccccc" stroke-opacity="0.8" stroke-width="1.389"/>
<path d="M983 693L1011 693L1011 683L983 683Z" fill="#0000ff"/>
<text transform="translate(1021.915 693.345)" font-size="13.889" fill="#000000"><tspan x="0" textLength="10.025" lengthAdjust="spacingAndGlyphs">H</tspan><tspan x="10.03" textLength="8.202" lengthAdjust="spacingAndGlyphs">e</tspan><tspan x="18.23" textLength="3.704" lengthAdjust="spacingAndGlyphs">i</tspan><tspan x="21.93" textLength="8.463" lengthAdjust="spacingAndGlyphs">g</tspan><tspan x="30.39" textLength="8.450" lengthAdjust="spacingAndGlyphs">h</tspan><tspan x="38.84" textLength="5.227" lengthAdjust="spacingAndGlyphs">t</tspan></text>
</svg>
</body></html>
